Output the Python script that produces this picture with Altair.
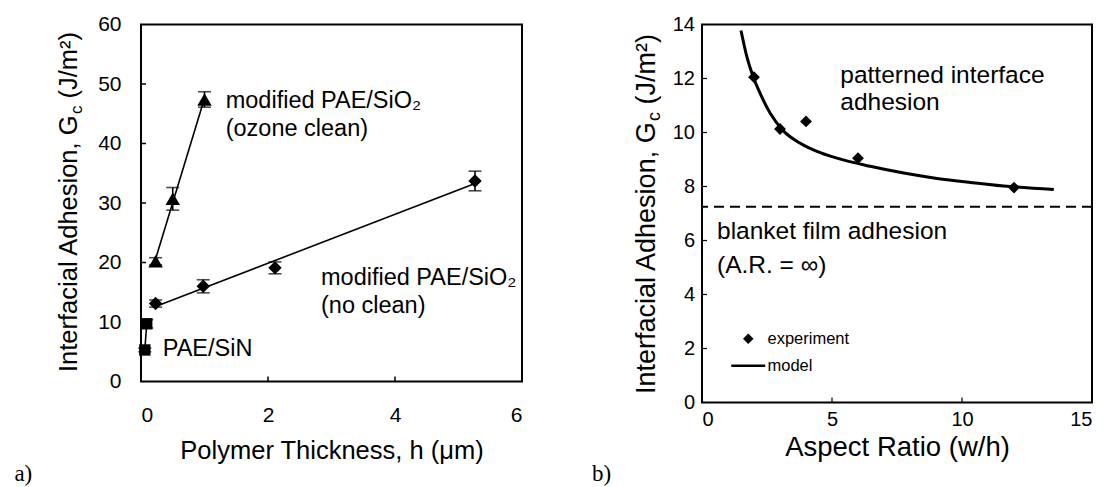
import altair as alt
import pandas as pd

FONT = "Liberation Sans"
SERIF = "Liberation Serif"

# ---------------- panel a) data ----------------
ozone_h = [0.23, 0.50, 1.00]
ozone_G = [20.2, 30.7, 47.4]
ozone_err = [0.6, 1.9, 1.3]

noclean_h = [0.23, 0.98, 2.11, 5.26]
noclean_G = [13.1, 16.0, 19.1, 33.7]
noclean_err = [0.6, 1.1, 1.0, 1.65]

sin_h = [0.06, 0.09]
sin_G = [5.3, 9.7]
sin_err = [0.3, 0.7]

a_xlabels = [0, 2, 4, 6]
a_ylabels = [0, 10, 20, 30, 40, 50, 60]
a_xticks = [2, 4]
a_yticks = [10, 20, 30, 40, 50]

a_texts = ["modified PAE/SiO\u2082", "(ozone clean)", "modified PAE/SiO\u2082",
           "(no clean)", "PAE/SiN"]
a_xtitle = "Polymer Thickness, h (\u03bcm)"

# ---------------- panel b) data ----------------
ar_exp = [2, 3, 4, 6, 12]
gc_exp = [12.05, 10.13, 10.41, 9.05, 7.96]

ar_model = [1.50, 1.73, 1.95, 2.24, 2.63, 3.14, 3.78, 4.42, 5.19, 6.47,
            7.76, 9.04, 10.32, 11.60, 13.53]
gc_model = [13.78, 12.79, 12.11, 11.44, 10.70, 10.05, 9.60, 9.30, 9.05, 8.75,
            8.50, 8.30, 8.15, 8.02, 7.89]

gc_blanket = [7.25]

b_xlabels = [0, 5, 10, 15]
b_ylabels = [0, 2, 4, 6, 8, 10, 12, 14]
b_xticks = [5, 10]
b_yticks = [2, 4, 6, 8, 10, 12]

b_texts = ["patterned interface", "adhesion", "blanket film adhesion",
           "(A.R. = \u221e)"]
b_xtitle = "Aspect Ratio (w/h)"
legend_labels = ["experiment", "model"]

ONE = pd.DataFrame({"k": [0]})


def label(txt, x, y, size, font=FONT, angle=0, dy=0, align="left"):
    props = dict(text=txt, align=align, baseline="alphabetic", font=font,
                 fontSize=size, color="black")
    if angle:
        props["angle"] = angle
    if dy:
        props["dy"] = dy
    return alt.Chart(ONE).mark_text(**props).encode(x=alt.value(x), y=alt.value(y))


def ytitle(cx, cy, fs):
    sub = fs * 0.66
    w1 = 10.116 * fs
    wc = 0.5 * sub
    wsp = 0.278 * fs
    w3 = 2.61 * fs
    total = w1 + wc + wsp + w3
    start = cy + total / 2.0
    ya = start - w1
    return [
        label("Interfacial Adhesion, G", cx, start, fs, angle=270),
        label("c", cx, ya, sub, angle=270, dy=0.2 * fs),
        label("(J/m\u00b2)", cx, ya - wc - wsp, fs, angle=270),
    ]


# ---------------- panel a) ----------------
WA, HA = 381, 357
xs_a = alt.Scale(domain=[0, 6], nice=False, zero=False)
ys_a = alt.Scale(domain=[0, 60], nice=False, zero=False)
ax_a_x = alt.Axis(values=a_xlabels, title=a_xtitle, labelFontSize=21, labelPadding=23,
                  titleFontSize=25.5, titlePadding=13, format="d")
ax_a_y = alt.Axis(values=a_ylabels, title=None, labelFontSize=21, labelPadding=20,
                  format="d")


def XA(f):
    return alt.X(f"{f}:Q", scale=xs_a, axis=ax_a_x)


def YA(f):
    return alt.Y(f"{f}:Q", scale=ys_a, axis=ax_a_y)


def series_a(h, G, err, shape, size, fit):
    df = pd.DataFrame({"h": h, "G": G, "err": err})
    base = alt.Chart(df).transform_calculate(lo="datum.G - datum.err",
                                             hi="datum.G + datum.err")
    out = []
    if fit:
        out.append(alt.Chart(df).transform_regression("h", "G")
                   .mark_line(color="black", strokeWidth=1.6)
                   .encode(x=XA("h"), y=YA("G")))
    else:
        out.append(alt.Chart(df).mark_line(color="black", strokeWidth=1.6)
                   .encode(x=XA("h"), y=YA("G")))
    out.append(base.mark_rule(color="black", strokeWidth=1.6)
               .encode(x=XA("h"), y=YA("lo"), y2=alt.Y2("hi")))
    for f in ["lo", "hi"]:
        out.append(base.mark_tick(orient="horizontal", size=13, thickness=1.6, color="black")
                   .encode(x=XA("h"), y=YA(f)))
    out.append(base.mark_point(shape=shape, filled=True, color="black", size=size, opacity=1)
               .encode(x=XA("h"), y=YA("G")))
    return out


a_layers = []
a_layers += series_a(ozone_h, ozone_G, ozone_err, "triangle-up", 210, True)
a_layers += series_a(noclean_h, noclean_G, noclean_err, "diamond", 180, True)
a_layers += series_a(sin_h, sin_G, sin_err, "square", 130, False)

a_layers.append(alt.Chart(pd.DataFrame({"v": a_xticks})).mark_rule(color="black", strokeWidth=1.5)
                .encode(x=XA("v"), y=alt.value(HA), y2=alt.value(HA - 5)))
a_layers.append(alt.Chart(pd.DataFrame({"v": a_yticks})).mark_rule(color="black", strokeWidth=1.5)
                .encode(y=YA("v"), x=alt.value(0), x2=alt.value(5)))

a_layers += [
    label(a_texts[0], 84.7, 83.3, 23.5),
    label(a_texts[1], 84.7, 111.7, 23.5),
    label(a_texts[2], 180, 260, 23.5),
    label(a_texts[3], 180, 288, 23.5),
    label(a_texts[4], 21.7, 331.7, 23.5),
    label("a)", -126.6, 456.7, 23, font=SERIF),
]
a_layers += ytitle(-64.3, 177.5, 25.5)

panel_a = alt.layer(*a_layers).properties(width=WA, height=HA)

# ---------------- panel b) ----------------
WB, HB = 390, 378
xs_b = alt.Scale(domain=[0, 15], nice=False, zero=False)
ys_b = alt.Scale(domain=[0, 14], nice=False, zero=False)
ax_b_x = alt.Axis(values=b_xlabels, title=b_xtitle, labelFontSize=20, labelPadding=7,
                  titleFontSize=27.5, titlePadding=4, format="d")
ax_b_y = alt.Axis(values=b_ylabels, title=None, labelFontSize=20, labelPadding=7.5,
                  format="d")


def XB(f):
    return alt.X(f"{f}:Q", scale=xs_b, axis=ax_b_x)


def YB(f):
    return alt.Y(f"{f}:Q", scale=ys_b, axis=ax_b_y)


df_exp = pd.DataFrame({"ar": ar_exp, "gc": gc_exp, "kind": [legend_labels[0]] * len(ar_exp)})
df_model = pd.DataFrame({"ar": ar_model, "gc": gc_model})
df_blank = pd.DataFrame({"gc": gc_blanket})

b_layers = [
    alt.Chart(df_blank).mark_rule(color="black", strokeWidth=2, strokeDash=[10, 6])
    .encode(y=YB("gc")),
    alt.Chart(df_model).mark_line(color="black", strokeWidth=3, interpolate="monotone")
    .encode(x=XB("ar"), y=YB("gc")),
    alt.Chart(df_exp).mark_point(filled=True, color="black", size=140, opacity=1)
    .encode(
        x=XB("ar"), y=YB("gc"),
        shape=alt.Shape(
            "kind:N",
            scale=alt.Scale(domain=legend_labels,
                            range=["diamond", "M-3.24,-0.24H3.24V0.24H-3.24Z"]),
            legend=alt.Legend(
                title=None, orient="none", legendX=38, legendY=306,
                symbolSize=110, symbolFillColor="black", symbolStrokeWidth=0,
                labelFont=FONT, labelFontSize=16.5,
                labelColor="black", labelOffset=11, rowPadding=10, padding=0,
            ),
        ),
    ),
    alt.Chart(pd.DataFrame({"v": b_xticks})).mark_rule(color="black", strokeWidth=1.2)
    .encode(x=XB("v"), y=alt.value(HB), y2=alt.value(HB - 5)),
    alt.Chart(pd.DataFrame({"v": b_yticks})).mark_rule(color="black", strokeWidth=1.2)
    .encode(y=YB("v"), x=alt.value(0), x2=alt.value(5)),
    label(b_texts[0], 138.3, 58.3, 24.5),
    label(b_texts[1], 138.3, 85.3, 24.5),
    label(b_texts[2], 15, 214.7, 24.5),
    label(b_texts[3], 15, 248, 24.5),
    label("b)", -110, 456.8, 23, font=SERIF),
]
b_layers += ytitle(-47, 189.5, 27)

panel_b = alt.layer(*b_layers).properties(width=WB, height=HB)

chart = (
    alt.hconcat(panel_a, panel_b, spacing=180, bounds="flush")
    .resolve_scale(shape="independent")
    .resolve_legend(shape="independent")
    .properties(padding={"left": 5, "top": 4.5, "right": 0, "bottom": 0})
    .configure(background="white")
    .configure_axis(grid=False, ticks=False, domain=False, labelFont=FONT, titleFont=FONT,
                    labelColor="black", titleColor="black", titleFontWeight="normal")
    .configure_view(stroke="black", strokeWidth=2)
)

chart.save("out.html", embed_options={"renderer": "svg", "actions": False})
